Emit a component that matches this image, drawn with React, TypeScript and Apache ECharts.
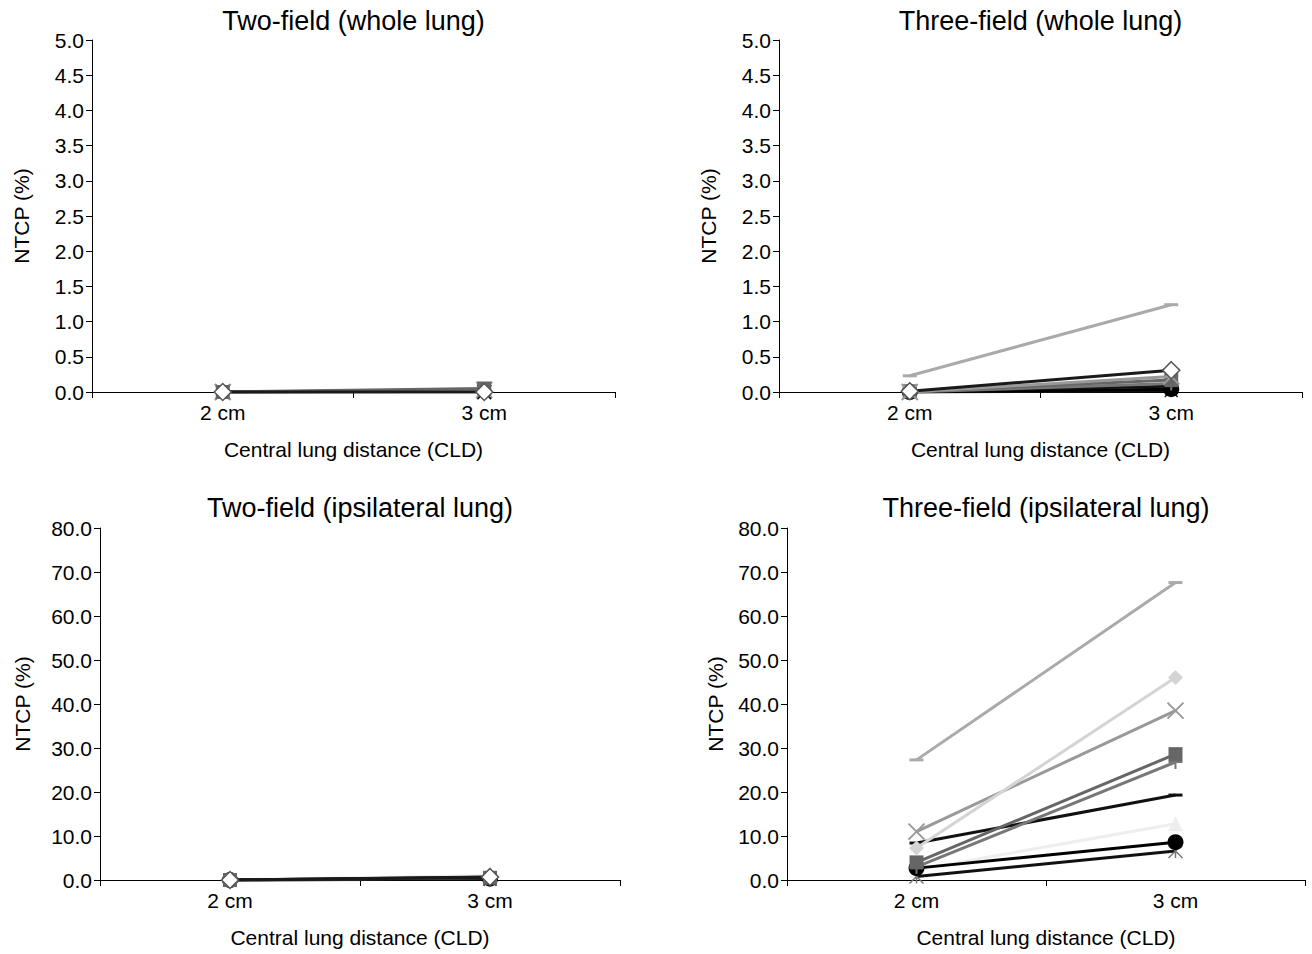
import React, { useEffect, useRef } from 'react';
import * as echarts from 'echarts';

const CATEGORIES = ['2 cm', '3 cm'];
const TITLES = [
  'Two-field (whole lung)',
  'Three-field (whole lung)',
  'Two-field (ipsilateral lung)',
  'Three-field (ipsilateral lung)',
];
const X_NAME = 'Central lung distance (CLD)';
const Y_NAME = 'NTCP (%)';

const WHOLE_MAX = 5;
const WHOLE_STEP = 0.5;
const IPSI_MAX = 80;
const IPSI_STEP = 10;

// Two-field (whole lung): [2 cm, 3 cm]
const twoWholeStyles = ['xBlack', 'starBlack', 'dashBlack', 'xGray', 'squareDark', 'diamondWhite'];
const twoWholeValues = [
  [0.0, 0.0],
  [0.0, 0.01],
  [0.0, 0.02],
  [0.0, 0.03],
  [0.0, 0.05],
  [0.0, 0.0],
];

// Three-field (whole lung)
const threeWholeStyles = ['starBlack', 'circleBlack', 'dashBlack', 'plusGray', 'squareDark', 'xGray', 'diamondWhite', 'dashGray'];
const threeWholeValues = [
  [0.0, 0.02],
  [0.0, 0.04],
  [0.01, 0.08],
  [0.0, 0.12],
  [0.01, 0.17],
  [0.0, 0.22],
  [0.01, 0.31],
  [0.23, 1.24],
];

// Two-field (ipsilateral lung)
const twoIpsiStyles = ['triangleLight', 'starBlack', 'circleBlack', 'squareDark', 'dashBlack', 'diamondWhite'];
const twoIpsiValues = [
  [0.0, 1.0],
  [0.0, 0.2],
  [0.0, 0.3],
  [0.0, 0.5],
  [0.0, 0.6],
  [0.0, 0.7],
];

// Three-field (ipsilateral lung)
const threeIpsiStyles = ['triangleLight', 'starGray', 'circleBlack', 'dashBlack', 'plusGray', 'squareDark', 'xGray', 'diamondLight', 'dashGray'];
const threeIpsiValues = [
  [2.3, 12.8],
  [0.8, 6.6],
  [2.7, 8.6],
  [8.4, 19.3],
  [3.0, 26.8],
  [4.0, 28.6],
  [11.0, 38.5],
  [7.3, 46.0],
  [27.3, 67.6],
];

const X_PATH = 'path://M0,0L10,10M10,0L0,10';
const PLUS_PATH = 'path://M5,0L5,10M0,5L10,5';
const STAR_PATH = 'path://M0,0L10,10M10,0L0,10M5,0L5,10';

type Style = { line: string; symbol: string; size: number | number[]; fill: string; stroke?: string; bw?: number };
const STYLES: Record<string, Style> = {
  dashGray: { line: '#aaaaaa', symbol: 'rect', size: [14, 3], fill: '#aaaaaa' },
  dashBlack: { line: '#111111', symbol: 'rect', size: [14, 3], fill: '#111111' },
  diamondWhite: { line: '#1a1a1a', symbol: 'diamond', size: 17, fill: '#ffffff', stroke: '#555555', bw: 1.5 },
  diamondLight: { line: '#d4d4d4', symbol: 'diamond', size: 15, fill: '#d4d4d4' },
  xGray: { line: '#999999', symbol: X_PATH, size: 16, fill: 'none', stroke: '#999999', bw: 2 },
  xBlack: { line: '#111111', symbol: X_PATH, size: 14, fill: 'none', stroke: '#111111', bw: 2 },
  squareDark: { line: '#666666', symbol: 'rect', size: 14, fill: '#666666' },
  plusGray: { line: '#777777', symbol: PLUS_PATH, size: 14, fill: 'none', stroke: '#777777', bw: 2 },
  triangleLight: { line: '#eeeeee', symbol: 'triangle', size: 15, fill: '#eeeeee' },
  circleBlack: { line: '#000000', symbol: 'circle', size: 16, fill: '#000000' },
  starGray: { line: '#111111', symbol: STAR_PATH, size: 14, fill: 'none', stroke: '#777777', bw: 1.5 },
  starBlack: { line: '#111111', symbol: STAR_PATH, size: 13, fill: 'none', stroke: '#111111', bw: 1.5 },
};

const FONT = 'Liberation Sans, Arial, Helvetica, sans-serif';

const GRIDS = [
  { left: 92, top: 40, width: 523, height: 352 },
  { left: 779, top: 40, width: 523, height: 352 },
  { left: 100, top: 528, width: 520, height: 352 },
  { left: 787, top: 528, width: 518, height: 352 },
];

export default function App() {
  const ref = useRef<HTMLDivElement>(null);
  useEffect(() => {
    if (!ref.current) return;
    const chart = echarts.init(ref.current, null, { renderer: 'svg' });
    const panels = [
      { styles: twoWholeStyles, values: twoWholeValues, max: WHOLE_MAX, step: WHOLE_STEP, nameGap: 60 },
      { styles: threeWholeStyles, values: threeWholeValues, max: WHOLE_MAX, step: WHOLE_STEP, nameGap: 60 },
      { styles: twoIpsiStyles, values: twoIpsiValues, max: IPSI_MAX, step: IPSI_STEP, nameGap: 67 },
      { styles: threeIpsiStyles, values: threeIpsiValues, max: IPSI_MAX, step: IPSI_STEP, nameGap: 61 },
    ];
    const axisLine = { show: true, lineStyle: { color: '#000', width: 1 } };
    const axisTick = { show: true, inside: false, length: 6, lineStyle: { color: '#000', width: 1 } };
    const textStyle = { color: '#000', fontFamily: FONT, fontSize: 21 };

    const series: any[] = [];
    panels.forEach((p, gi) => {
      p.values.forEach((vals, si) => {
        const st = STYLES[p.styles[si]];
        series.push({
          type: 'line',
          xAxisIndex: gi,
          yAxisIndex: gi,
          data: vals,
          symbol: st.symbol,
          symbolSize: st.size,
          showAllSymbol: true,
          lineStyle: { color: st.line, width: 3 },
          itemStyle: {
            color: st.fill,
            borderColor: st.stroke || st.fill,
            borderWidth: st.bw || 0,
          },
          z: 2 + si,
          silent: true,
        });
      });
    });

    chart.setOption({
      animation: false,
      backgroundColor: '#ffffff',
      title: GRIDS.map((g, i) => ({
        text: TITLES[i],
        left: g.left + g.width / 2,
        top: i < 2 ? 7 : 494,
        textAlign: 'center',
        padding: 0,
        textStyle: { color: '#000', fontFamily: FONT, fontSize: 27, fontWeight: 'normal' },
      })),
      grid: GRIDS.map((g) => ({ ...g, containLabel: false })),
      xAxis: GRIDS.map((_, i) => ({
        type: 'category',
        gridIndex: i,
        data: CATEGORIES,
        boundaryGap: true,
        axisLine,
        axisTick: { ...axisTick, alignWithLabel: false },
        axisLabel: { ...textStyle, margin: 10 },
        splitLine: { show: false },
        name: X_NAME,
        nameLocation: 'middle',
        nameGap: 47,
        nameTextStyle: textStyle,
      })),
      yAxis: panels.map((p, i) => ({
        type: 'value',
        gridIndex: i,
        min: 0,
        max: p.max,
        interval: p.step,
        axisLine,
        axisTick,
        axisLabel: { ...textStyle, margin: 8, formatter: (v: number) => v.toFixed(1) },
        splitLine: { show: false },
        name: Y_NAME,
        nameLocation: 'middle',
        nameGap: p.nameGap,
        nameTextStyle: textStyle,
      })),
      series,
    });
    return () => chart.dispose();
  }, []);
  return <div ref={ref} style={{ position: 'absolute', left: 0, top: 0, width: 1312, height: 954 }} />;
}
